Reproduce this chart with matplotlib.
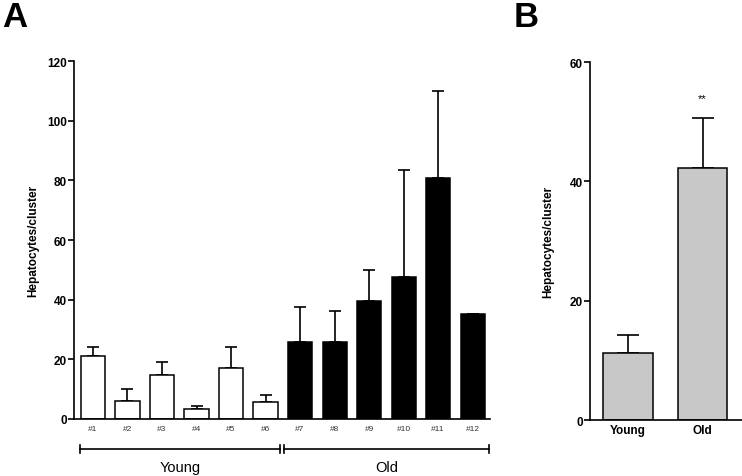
import matplotlib.pyplot as plt

plt.rcParams['font.family'] = ['Liberation Sans', 'DejaVu Sans']

# panel A data
samples = ['#1', '#2', '#3', '#4', '#5', '#6', '#7', '#8', '#9', '#10', '#11', '#12']
means_a = [21.0, 6.1, 14.7, 3.4, 17.0, 5.6, 25.7, 25.9, 39.6, 47.5, 80.9, 35.2]
upper_a = [24.0, 10.0, 19.2, 4.2, 24.0, 8.0, 37.4, 36.2, 49.9, 83.5, 109.8, 35.2]
groups = ['Young'] * 6 + ['Old'] * 6

# panel B data
groups_b = ['Young', 'Old']
means_b = [11.3, 42.2]
upper_b = [14.3, 50.6]

fig = plt.figure(figsize=(7.42, 4.77), dpi=100)

def style(ax, top):
    for s in ['top', 'right']:
        ax.spines[s].set_visible(False)
    ax.spines['left'].set_linewidth(1.2)
    ax.spines['bottom'].set_linewidth(1.2)
    ax.spines['left'].set_bounds(0, top)
    ax.tick_params(axis='y', direction='out', length=4, width=1.2, labelsize=8.5, pad=1)
    ax.tick_params(axis='x', length=0)
    for t in ax.get_yticklabels():
        t.set_fontweight('bold')

# ---- A ----
ax = fig.add_axes([0.0997, 0.1195, 0.5606, 0.7505])
xs = list(range(len(samples)))
colors = ['white' if g == 'Young' else 'black' for g in groups]
ax.bar(xs, means_a, width=0.7, color=colors, edgecolor='black', linewidth=1.1, zorder=2)
err = [u - m for u, m in zip(upper_a, means_a)]
ax.errorbar(xs, means_a, yerr=[[0] * len(err), err], fmt='none', ecolor='black',
            elinewidth=1.2, capsize=4.3, capthick=1.2, zorder=1)
ax.set_xlim(-0.55, 11.5)
ax.set_ylim(0, 120)
ax.set_yticks([0, 20, 40, 60, 80, 100, 120])
ax.set_xticks(xs)
ax.set_xticklabels(samples, fontsize=6, color='#333333')
ax.tick_params(axis='x', pad=4)
ax.set_ylabel('Hepatocytes/cluster', fontsize=8.5, fontweight='bold', labelpad=6)
style(ax, 120)

# group brackets below the axis
yb = -10
for name, x0, x1 in [('Young', -0.38, 5.42), ('Old', 5.54, 11.47)]:
    ax.plot([x0, x1], [yb, yb], color='black', lw=1.2, clip_on=False)
    ax.plot([x0, x0], [yb - 1.3, yb + 1.3], color='black', lw=1.2, clip_on=False)
    ax.plot([x1, x1], [yb - 1.3, yb + 1.3], color='black', lw=1.2, clip_on=False)
    ax.text((x0 + x1) / 2, yb - 6, name, ha='center', va='center', fontsize=10.5)

fig.text(0.003, 0.998, 'A', fontsize=25, fontweight='bold', va='top', ha='left')

# ---- B ----
bx = fig.add_axes([0.7951, 0.1174, 0.2049, 0.7505])
xb = list(range(len(groups_b)))
bx.bar(xb, means_b, width=0.67, color='#c8c8c8', edgecolor='black', linewidth=1.1, zorder=2)
errb = [u - m for u, m in zip(upper_b, means_b)]
bx.errorbar(xb, means_b, yerr=[[0, 0], errb], fmt='none', ecolor='black',
            elinewidth=1.2, capsize=8, capthick=1.2, zorder=1)
bx.text(1, upper_b[1] + 2.5, '**', ha='center', va='bottom', fontsize=8)
bx.set_xlim(-0.51, 1.53)
bx.set_ylim(0, 60)
bx.set_yticks([0, 20, 40, 60])
bx.set_xticks(xb)
bx.set_xticklabels(groups_b, fontsize=8.5, fontweight='bold')
bx.tick_params(axis='x', pad=3)
bx.set_ylabel('Hepatocytes/cluster', fontsize=8.5, fontweight='bold', labelpad=11)
style(bx, 60)

fig.text(0.692, 0.998, 'B', fontsize=25, fontweight='bold', va='top', ha='left')

fig.savefig('out.png', dpi=100)
